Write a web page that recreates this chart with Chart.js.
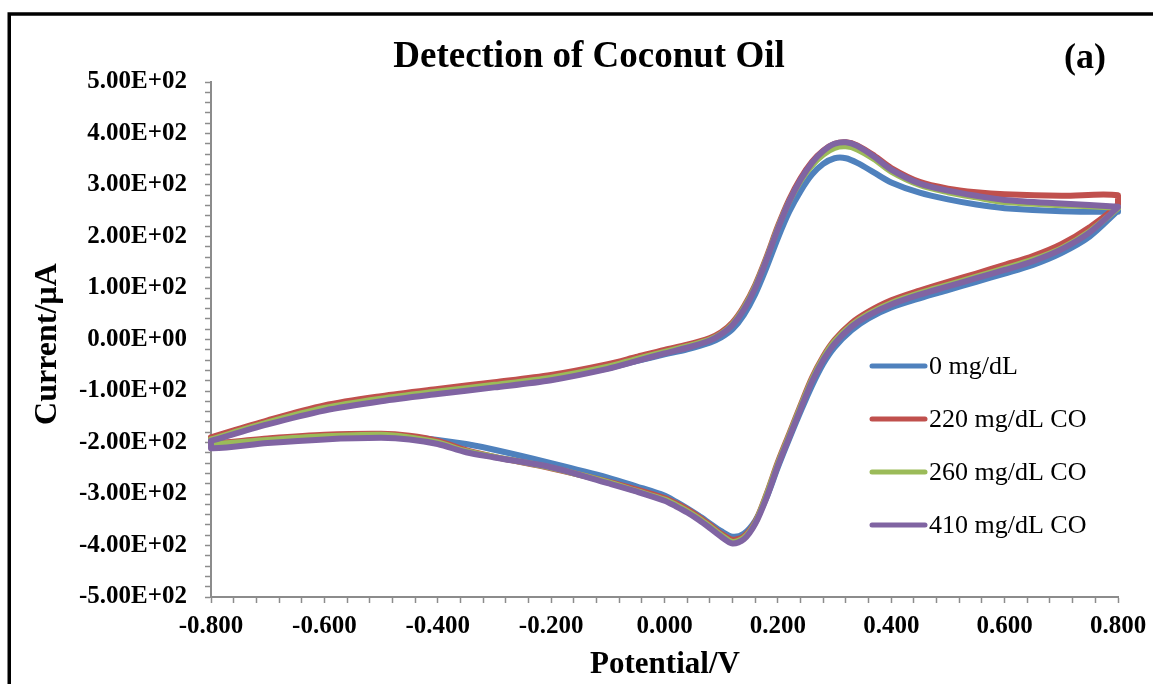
<!DOCTYPE html>
<html>
<head>
<meta charset="utf-8">
<script src="https://cdn.jsdelivr.net/npm/chart.js@4/dist/chart.umd.min.js"></script>
<style>
  html, body { margin: 0; padding: 0; background: #fff; }
  #wrap { width: 1153px; height: 684px; position: relative; }
</style>
</head>
<body>
<div id="wrap"><canvas id="c" width="1153" height="684"></canvas></div>
<script>
// ---- Data ----
const chartTitle = "Detection of Coconut Oil";
const panelLabel = "(a)";
const xAxisTitle = "Potential/V";
const yAxisTitle = "Current/\u00b5A";
const seriesNames = ["0 mg/dL", "220 mg/dL CO", "260 mg/dL CO", "410 mg/dL CO"];
const seriesColors = ["#4F81BD", "#C0504D", "#9BBB59", "#8064A2"];

// Anodic (forward) scan potentials, V
const forwardPotential = [-0.80,-0.70,-0.60,-0.50,-0.40,-0.30,-0.20,-0.10,-0.05,0.00,0.04,0.08,0.10,0.12,0.14,0.16,0.18,0.20,0.22,0.24,0.26,0.28,0.30,0.32,0.34,0.37,0.40,0.45,0.50,0.55,0.60,0.70,0.80];
// Cathodic (reverse) scan potentials, V
const reversePotential = [0.80,0.75,0.70,0.65,0.60,0.55,0.50,0.45,0.40,0.36,0.33,0.30,0.28,0.26,0.24,0.22,0.20,0.18,0.16,0.14,0.12,0.10,0.08,0.06,0.04,0.02,0.00,-0.05,-0.10,-0.20,-0.30,-0.35,-0.40,-0.45,-0.50,-0.60,-0.70,-0.80];

// Currents, µA — forward scan
const fwd0   = [-193,-160,-133,-116,-102,-89,-76,-56,-42,-29,-19,-6,4,20,48,88,140,197,248,288,320,341,352,352,343,324,305,285,272,262,255,249,248];
const fwd220 = [-190,-157,-128,-110,-96,-83,-69,-48,-34,-20,-10,3,14,33,64,106,160,220,272,313,345,367,380,383,377,357,333,306,293,286,282,279,280];
const fwd260 = [-194,-161,-133,-115,-101,-88,-74,-53,-38,-24,-13,0,11,30,61,103,157,217,268,308,338,359,372,375,369,350,326,300,286,276,267,261,256];
const fwd410 = [-197,-165,-138,-120,-106,-93,-79,-57,-42,-27,-16,-2,10,28,58,100,155,215,268,310,343,366,380,383,376,355,330,303,289,279,271,264,258];

// Currents, µA — reverse scan
const rev0   = [250,200,168,145,128,112,96,80,62,41,18,-15,-47,-90,-140,-193,-248,-307,-352,-377,-383,-372,-357,-342,-328,-315,-303,-285,-268,-240,-214,-203,-195,-190,-189,-192,-198,-205];
const rev220 = [262,218,185,162,145,128,112,95,76,54,32,-1,-33,-75,-128,-183,-238,-300,-354,-382,-389,-377,-360,-344,-330,-318,-308,-291,-276,-250,-228,-215,-197,-187,-183,-185,-192,-201];
const rev260 = [255,210,177,155,138,122,106,90,71,50,28,-4,-36,-78,-131,-186,-241,-302,-356,-385,-393,-380,-363,-347,-333,-321,-311,-294,-277,-249,-228,-217,-200,-190,-185,-188,-195,-203];
const rev410 = [257,208,175,152,135,119,103,87,68,47,25,-8,-40,-82,-135,-190,-245,-307,-358,-388,-396,-383,-366,-350,-336,-324,-313,-295,-279,-248,-229,-219,-203,-194,-191,-194,-201,-211];

const forwardCurrents = [fwd0, fwd220, fwd260, fwd410];
const reverseCurrents = [rev0, rev220, rev260, rev410];

// Axis ranges / tick spacing
const xMin = -0.8, xMax = 0.8, xMinorStep = 0.04, xMajorStep = 0.2;
const yMin = -500, yMax = 500, yMinorStep = 20, yMajorStep = 100;

// ---- Build datasets ----
function loop(fv, fi, rv, ri) {
  const pts = [];
  fv.forEach((v, i) => pts.push({x: v, y: fi[i]}));
  rv.forEach((v, i) => pts.push({x: v, y: ri[i]}));
  pts.push({x: fv[0], y: fi[0]});
  return pts;
}

const datasets = seriesNames.map((name, k) => ({
  label: name,
  data: loop(forwardPotential, forwardCurrents[k], reversePotential, reverseCurrents[k]),
  borderColor: seriesColors[k],
  backgroundColor: seriesColors[k],
  borderWidth: 6,
  borderCapStyle: 'round',
  borderJoinStyle: 'round',
  pointRadius: 0,
  pointHoverRadius: 0,
  showLine: true,
  tension: 0.3,
  fill: false,
  clip: false,
  order: seriesNames.length - k
}));

const SERIF = '"Liberation Serif", "Times New Roman", serif';

function isMultiple(v, step) {
  const r = v / step;
  return Math.abs(r - Math.round(r)) < 1e-6;
}
function sci(v) {
  const s = v.toExponential(2).toUpperCase();
  const m = s.match(/^(-?[\d.]+)E([+-])(\d+)$/);
  return m[1] + 'E' + m[2] + m[3].padStart(2, '0');
}

const decor = {
  id: 'decor',
  beforeDraw(chart) {
    const c = chart.ctx;
    c.save();
    c.fillStyle = '#ffffff';
    c.fillRect(0, 0, chart.width, chart.height);
    c.restore();
  },
  afterDraw(chart) {
    const c = chart.ctx;
    c.save();
    // outer frame (top and left visible)
    c.strokeStyle = '#000';
    c.lineWidth = 3.5;
    c.beginPath();
    c.moveTo(7.5, 14); c.lineTo(1153, 14);
    c.moveTo(9.25, 12.5); c.lineTo(9.25, 684);
    c.stroke();

    c.fillStyle = '#000';
    c.textAlign = 'center';
    c.textBaseline = 'middle';
    c.font = 'bold 37px ' + SERIF;
    c.fillText(chartTitle, 589, 57);
    c.font = 'bold 36px ' + SERIF;
    c.fillText(panelLabel, 1085, 59);

    c.font = 'bold 31px ' + SERIF;
    c.fillText(xAxisTitle, 665, 665);

    c.save();
    c.translate(48, 344);
    c.rotate(-Math.PI / 2);
    c.font = 'bold 32px ' + SERIF;
    c.fillText(yAxisTitle, 0, 0);
    c.restore();

    // legend
    const ds = chart.data.datasets;
    c.font = '26px ' + SERIF;
    c.textAlign = 'left';
    ds.forEach((d, i) => {
      const y = 366 + i * 53;
      c.strokeStyle = d.borderColor;
      c.lineWidth = 5;
      c.lineCap = 'round';
      c.beginPath();
      c.moveTo(872, y); c.lineTo(925, y);
      c.stroke();
      c.fillStyle = '#000';
      c.fillText(d.label, 929, y + 1);
    });
    c.restore();
  }
};

new Chart(document.getElementById('c'), {
  type: 'scatter',
  data: { datasets },
  plugins: [decor],
  options: {
    responsive: false,
    animation: false,
    devicePixelRatio: 1,
    layout: { padding: { top: 82, right: 35, left: 0, bottom: 0 } },
    plugins: {
      legend: { display: false },
      title: { display: false },
      tooltip: { enabled: false }
    },
    scales: {
      x: {
        type: 'linear',
        min: xMin, max: xMax,
        afterFit(scale) { scale.height = 87; scale.paddingRight = 0; scale.paddingLeft = 0; },
        grid: { drawOnChartArea: false, drawTicks: true, tickLength: 6, tickColor: '#8c8c8c', tickWidth: 1.5 },
        border: { display: true, color: '#8c8c8c', width: 2 },
        ticks: {
          stepSize: xMinorStep,
          autoSkip: false,
          maxRotation: 0,
          padding: 9,
          color: '#000',
          font: { family: SERIF, size: 25, weight: 'bold' },
          callback: (v) => isMultiple(v, xMajorStep) ? (Math.abs(v) < 1e-9 ? 0 : v).toFixed(3) : ''
        }
      },
      y: {
        type: 'linear',
        min: yMin, max: yMax,
        afterFit(scale) { scale.width = 211; },
        grid: { drawOnChartArea: false, drawTicks: true, tickLength: 6, tickColor: '#8c8c8c', tickWidth: 1.5 },
        border: { display: true, color: '#8c8c8c', width: 2 },
        ticks: {
          stepSize: yMinorStep,
          autoSkip: false,
          padding: 18,
          color: '#000',
          font: { family: SERIF, size: 25, weight: 'bold' },
          callback: (v) => isMultiple(v, yMajorStep) ? sci(v) : ''
        }
      }
    }
  }
});
</script>
</body>
</html>
